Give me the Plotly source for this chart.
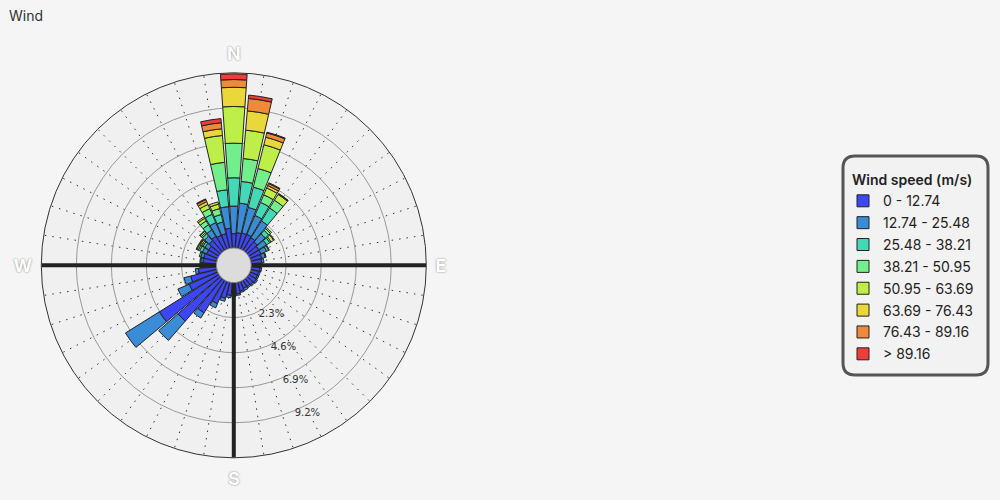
import plotly.graph_objects as go

directions = [0, 9, 18, 27, 36, 45, 54, 63, 72, 81, 90, 99, 108, 117, 126, 135, 144, 153, 162, 171,
              180, 189, 198, 207, 216, 225, 234, 243, 252, 261, 270, 279, 288, 297, 306, 315, 324, 333, 342, 351]

speed_bins = ["0 - 12.74", "12.74 - 25.48", "25.48 - 38.21", "38.21 - 50.95",
              "50.95 - 63.69", "63.69 - 76.43", "76.43 - 89.16", "> 89.16"]
bin_colors = ["#3c46f2", "#3a8cd6", "#42d9b6", "#72ef8c", "#bdef48", "#ead83a", "#ef8a3a", "#f23c3c"]

freq_0_12 = [0.94, 1.01, 1.05, 1.07, 1.0, 0.9, 0.8, 0.8, 0.75, 0.7, 0.6, 0.6, 0.55, 0.55, 0.6, 0.55, 0.5, 0.5, 0.6, 0.75,
             0.8, 0.85, 1.1, 1.6, 2.55, 3.72, 4.63, 2.05, 1.78, 1.2, 1.0, 0.9, 0.9, 0.8, 0.8, 1.0, 1.1, 1.0, 1.0, 1.30]
freq_12_25 = [1.81, 1.95, 1.73, 1.35, 1.3, 0.7, 0.6, 0.4, 0.25, 0.15, 0.1, 0.1, 0.1, 0.1, 0.1, 0.1, 0.1, 0.15, 0.1, 0.1,
              0.1, 0.15, 0.2, 0.3, 0.4, 1.68, 2.62, 0.8, 0.45, 0.2, 0.1, 0.15, 0.2, 0.3, 0.3, 0.4, 0.5, 0.9, 0.8, 1.43]
freq_25_38 = [1.86, 1.43, 1.37, 0.93, 1.0, 0.3, 0.25, 0.15, 0.05, 0, 0, 0, 0, 0, 0, 0, 0, 0, 0, 0,
              0, 0, 0, 0, 0, 0, 0, 0, 0, 0, 0, 0.05, 0.1, 0.2, 0.15, 0.2, 0.4, 0.6, 0.5, 1.11]
freq_38_51 = [2.27, 1.51, 1.26, 0.54, 0.6, 0.15, 0.1, 0.05, 0, 0, 0, 0, 0, 0, 0, 0, 0, 0, 0, 0,
              0, 0, 0, 0, 0, 0, 0, 0, 0, 0, 0, 0, 0, 0.1, 0.1, 0.1, 0.3, 0.4, 0.4, 1.81]
freq_51_64 = [2.41, 1.87, 1.61, 0.49, 0.45, 0.1, 0.2, 0, 0, 0, 0, 0, 0, 0, 0, 0, 0, 0, 0, 0,
              0, 0, 0, 0, 0, 0, 0, 0, 0, 0, 0, 0, 0, 0.1, 0.1, 0.1, 0.2, 0.3, 0.3, 1.77]
freq_64_76 = [1.26, 1.27, 0.51, 0.17, 0.05, 0, 0.05, 0, 0, 0, 0, 0, 0, 0, 0, 0, 0, 0, 0, 0,
              0, 0, 0, 0, 0, 0, 0, 0, 0, 0, 0, 0, 0, 0.05, 0.05, 0.05, 0.1, 0.2, 0.15, 0.44]
freq_76_89 = [0.51, 0.82, 0.29, 0.15, 0.02, 0, 0, 0, 0, 0, 0, 0, 0, 0, 0, 0, 0, 0, 0, 0,
              0, 0, 0, 0, 0, 0, 0, 0, 0, 0, 0, 0, 0, 0, 0.05, 0, 0, 0.15, 0, 0.40]
freq_89_up = [0.37, 0.22, 0.05, 0.05, 0, 0, 0, 0, 0, 0, 0, 0, 0, 0, 0, 0, 0, 0, 0, 0,
              0, 0, 0, 0, 0, 0, 0, 0, 0, 0, 0, 0, 0, 0, 0, 0, 0, 0.05, 0, 0.27]

series = [freq_0_12, freq_12_25, freq_25_38, freq_38_51, freq_51_64, freq_64_76, freq_76_89, freq_89_up]

radial_ticks = [2.3, 4.6, 6.9, 9.2]
radial_labels = ["2.3%", "4.6%", "6.9%", "9.2%"]
radial_max = 11.5
cardinal = {0: "N", 90: "E", 180: "S", 270: "W"}

FONT = "Inter, Noto Sans, sans-serif"
fig = go.Figure()

# thick cardinal axis lines (drawn first so bars sit on top)
for ang in [90, 180, 270]:
    fig.add_trace(go.Scatterpolar(r=[0, radial_max], theta=[ang, ang], mode="lines",
                                  line=dict(color="#222222", width=4), showlegend=False,
                                  hoverinfo="skip"))

for name, col, vals in zip(speed_bins, bin_colors, series):
    fig.add_trace(go.Barpolar(
        r=[v if v > 0 else None for v in vals], theta=directions, name=name, width=8,
        legendgroup=name,
        marker=dict(color=col, line=dict(color="#222222", width=1)),
    ))

# polar domain
cx, cy, R = 233.8, 265.3, 192.5
W, H = 1000, 500
hole = 0.09
dom_x = [(cx - R) / W, (cx + R) / W]
dom_y = [1 - (cy + R) / H, 1 - (cy - R) / H]

NB = "\u00a0"
fig.update_layout(
    width=W, height=H,
    paper_bgcolor="#f4f5f4",
    margin=dict(l=0, r=0, t=0, b=0),
    title=dict(text="Wind", x=0.009, xanchor="left", y=1 - 16 / H, yanchor="middle",
               font=dict(family=FONT, size=14, color="#333333")),
    polar=dict(
        domain=dict(x=dom_x, y=dom_y),
        bgcolor="#f0f0f0",
        hole=hole,
        barmode="stack",
        angularaxis=dict(
            rotation=90, direction="clockwise",
            tickmode="array", tickvals=directions,
            ticktext=[cardinal.get(d, "") for d in directions],
            ticks="outside", ticklen=5, tickcolor="rgba(0,0,0,0)",
            showline=True, linecolor="#333333", linewidth=1,
            gridcolor="#333333", griddash="1.5px,6px", gridwidth=1,
            tickfont=dict(family=FONT, size=18, color="#ffffff", weight="bold",
                          shadow="0px 0px 2px #777777"),
        ),
        radialaxis=dict(
            range=[0, radial_max], tickmode="array", tickvals=radial_ticks, ticktext=radial_labels,
            showline=False, ticks="", ticklen=0, angle=-70, side="counterclockwise",
            tickangle=-70,
            gridcolor="#999999", gridwidth=1,
            tickfont=dict(family="DejaVu Sans", size=10, color="#333333"),
        ),
    ),
    legend=dict(
        x=0.843, xanchor="left", y=1 - 167 / H, yanchor="top",
        bgcolor="rgba(0,0,0,0)", borderwidth=0,
        title=dict(text=NB + NB + "Wind speed (m/s)",
                   font=dict(family=FONT, size=14, color="#222222", weight=600)),
        font=dict(family=FONT, size=14, color="#222222"),
        tracegroupgap=0.66,
    ),
    showlegend=True,
)

# hole disc
r_hole = R * hole
fig.add_shape(type="circle", xref="paper", yref="paper",
              x0=(cx - r_hole) / W, x1=(cx + r_hole) / W,
              y0=1 - (cy + r_hole) / H, y1=1 - (cy - r_hole) / H,
              fillcolor="#dcdcdc", line=dict(color="#8a8a8a", width=1), layer="above")

# rounded legend frame
lx0, lx1, ly0, ly1, rad = 843, 988, 156, 375, 12
def px(x):
    return x / W
def py(y):
    return 1 - y / H
path = (f"M {px(lx0 + rad)},{py(ly0)} L {px(lx1 - rad)},{py(ly0)} "
        f"Q {px(lx1)},{py(ly0)} {px(lx1)},{py(ly0 + rad)} L {px(lx1)},{py(ly1 - rad)} "
        f"Q {px(lx1)},{py(ly1)} {px(lx1 - rad)},{py(ly1)} L {px(lx0 + rad)},{py(ly1)} "
        f"Q {px(lx0)},{py(ly1)} {px(lx0)},{py(ly1 - rad)} L {px(lx0)},{py(ly0 + rad)} "
        f"Q {px(lx0)},{py(ly0)} {px(lx0 + rad)},{py(ly0)} Z")
fig.add_shape(type="path", xref="paper", yref="paper", path=path,
              fillcolor="#f2f2f2", line=dict(color="#555555", width=3), layer="below")

fig.write_html("out.html", config={"displayModeBar": False},
               post_script="document.body.style.margin='0';document.body.style.background='#f4f5f4';")
